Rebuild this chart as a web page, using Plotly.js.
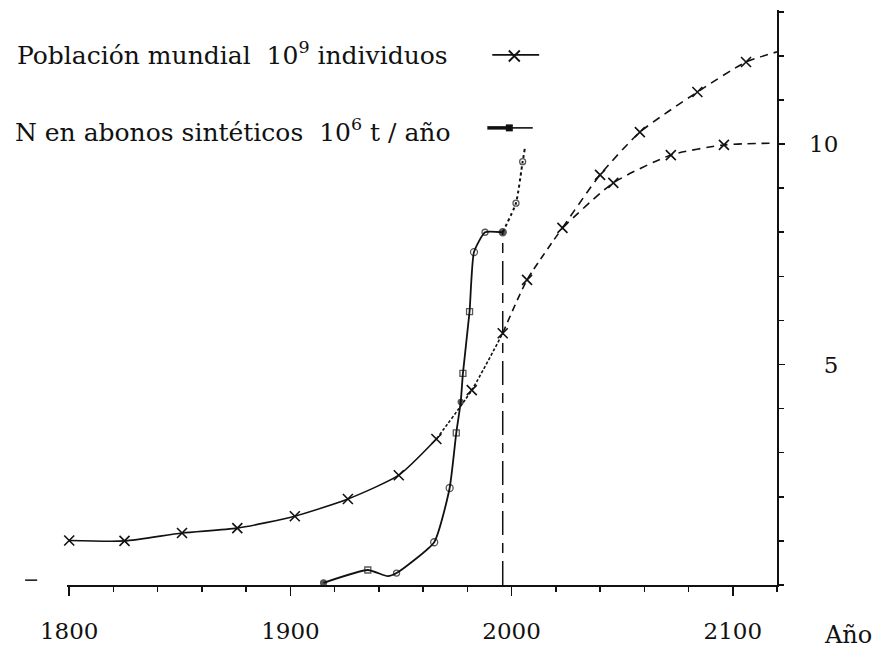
<!DOCTYPE html>
<html><head><meta charset="utf-8">
<script src="https://cdn.plot.ly/plotly-3.0.1.min.js"></script>
<style>html,body{margin:0;padding:0;background:#fff}</style>
</head><body>
<div id="chart" style="width:878px;height:650px"></div>
<script>
// ---- data ----
const popYears  = [1800, 1825, 1851, 1876, 1902, 1926, 1949, 1966, 1982, 1996, 2007, 2023];
const popValues = [1.01, 1.0, 1.18, 1.29, 1.56, 1.95, 2.49, 3.31, 4.42, 5.71, 6.92, 8.1];
const projHighYears  = [2023, 2040, 2058, 2084, 2106, 2120];
const projHighValues = [8.1, 9.3, 10.27, 11.18, 11.86, 12.09];
const projLowYears  = [2023, 2046, 2072, 2096, 2119];
const projLowValues = [8.1, 9.12, 9.75, 9.98, 10.02];
const nYears  = [1915, 1935, 1944, 1948, 1965, 1972, 1975, 1977, 1978, 1981, 1983, 1988, 1996];
const nValues = [0.05, 0.34, 0.2, 0.27, 0.97, 2.2, 3.45, 4.15, 4.8, 6.2, 7.55, 8.0, 8.0];
const nProjYears  = [1996, 2002, 2005, 2006];
const nProjValues = [8.0, 8.66, 9.6, 9.9];
const xTickVals = [1800, 1900, 2000, 2100];
const yTickVals = [5, 10];
const yTickText = ['\u00a0\u00a05', '10'];
const legendPop = 'Población mundial\u00a0\u00a010<sup>9</sup> individuos';
const legendN = 'N en abonos sintéticos\u00a0\u00a010<sup>6</sup> t / año';
const xAxisLabel = 'Año';

// ---- styles ----
const FONT = 'DejaVu Serif';
const INK = '#111';
const nSymbols = ['circle','square-open','circle','circle-open','circle-open','circle-open','square-open','circle','square-open','square-open','circle-open','circle-open','circle'];
const nSizes   = [6, 6, 0, 6, 7, 7, 6, 5, 6, 6, 7, 6, 7];
const nProjSymbols = ['circle','circle-open','circle-open','circle'];
const nProjSizes   = [0, 6, 6, 0];

const solidEnd = popYears.indexOf(1966);
const fineEnd = popYears.indexOf(1996);

function seg(xs, ys, a, b) { return {x: xs.slice(a, b + 1), y: ys.slice(a, b + 1)}; }
const s1 = seg(popYears, popValues, 0, solidEnd);
const s2 = seg(popYears, popValues, solidEnd, fineEnd);
const s3 = seg(popYears, popValues, fineEnd, popYears.length - 1);

const lineBase = {type: 'scatter', mode: 'lines', cliponaxis: false, hoverinfo: 'skip'};
const traces = [
  Object.assign({}, lineBase, {x: s1.x, y: s1.y, line: {color: INK, width: 1.6, shape: 'spline', smoothing: 0.6}}),
  Object.assign({}, lineBase, {x: s2.x, y: s2.y, line: {color: INK, width: 1.6, dash: '3px,2px', shape: 'spline', smoothing: 0.6}}),
  Object.assign({}, lineBase, {x: s3.x, y: s3.y, line: {color: INK, width: 1.6, dash: '7px,5px', shape: 'spline', smoothing: 0.6}}),
  Object.assign({}, lineBase, {x: projHighYears, y: projHighValues, line: {color: INK, width: 1.6, dash: '8px,6px', shape: 'spline', smoothing: 0.6}}),
  Object.assign({}, lineBase, {x: projLowYears, y: projLowValues, line: {color: INK, width: 1.6, dash: '8px,6px', shape: 'spline', smoothing: 0.6}}),
  // population markers
  {type: 'scatter', mode: 'markers', cliponaxis: false, hoverinfo: 'skip',
   x: popYears.concat(projHighYears.slice(1, -1), projLowYears.slice(1, -1)),
   y: popValues.concat(projHighValues.slice(1, -1), projLowValues.slice(1, -1)),
   marker: {symbol: 'x-thin', size: 10, color: INK, line: {color: INK, width: 1.6}}},
  // N fertilizer
  Object.assign({}, lineBase, {mode: 'lines+markers', x: nYears, y: nValues,
   line: {color: INK, width: 1.8, shape: 'spline', smoothing: 0.5},
   marker: {symbol: nSymbols, size: nSizes, color: INK, line: {color: INK, width: 1.3}}}),
  Object.assign({}, lineBase, {mode: 'lines+markers', x: nProjYears, y: nProjValues,
   line: {color: INK, width: 2, dash: 'dot', shape: 'spline', smoothing: 0.5},
   marker: {symbol: nProjSymbols, size: nProjSizes, color: INK, line: {color: INK, width: 1.3}}}),
  // legend samples (overlay axes 0..1)
  Object.assign({}, lineBase, {xaxis: 'x2', yaxis: 'y2', x: [0.599, 0.665], y: [0.922, 0.922], line: {color: INK, width: 1.6}}),
  {type: 'scatter', mode: 'markers', xaxis: 'x2', yaxis: 'y2', cliponaxis: false, hoverinfo: 'skip',
   x: [0.630], y: [0.920], marker: {symbol: 'x-thin', size: 11, color: INK, line: {color: INK, width: 1.8}}},
  Object.assign({}, lineBase, {xaxis: 'x2', yaxis: 'y2', x: [0.592, 0.623], y: [0.795, 0.795], line: {color: INK, width: 3.5}}),
  Object.assign({}, lineBase, {xaxis: 'x2', yaxis: 'y2', x: [0.623, 0.656], y: [0.795, 0.795], line: {color: INK, width: 1.6}}),
  {type: 'scatter', mode: 'markers', xaxis: 'x2', yaxis: 'y2', cliponaxis: false, hoverinfo: 'skip',
   x: [0.623], y: [0.795], marker: {symbol: 'square', size: 7, color: INK}}
];

const tickFont = {family: FONT, size: 23, color: INK};
const lastN = nYears.length - 1;
const layout = {
  width: 878, height: 650,
  margin: {l: 67, r: 101, t: 10, b: 65},
  paper_bgcolor: '#fff', plot_bgcolor: '#fff',
  font: {family: FONT, color: INK},
  showlegend: false,
  xaxis: {
    range: [1799, 2120], showgrid: false, zeroline: false,
    showline: true, linecolor: INK, linewidth: 1.5,
    tickmode: 'array', tickvals: xTickVals,
    ticks: 'outside', ticklen: 9, tickwidth: 1.5, tickcolor: INK,
    minor: {tickmode: 'linear', tick0: 1800, dtick: 20, ticks: 'outside', ticklen: 5, tickwidth: 1.5, tickcolor: INK},
    tickfont: tickFont, ticklabelstandoff: 16
  },
  yaxis: {
    range: [0, 13.04], side: 'right', showgrid: false, zeroline: false,
    showline: true, linecolor: INK, linewidth: 1.5,
    tickmode: 'array', tickvals: yTickVals, ticktext: yTickText,
    ticks: 'outside', ticklen: 6, tickwidth: 1.5, tickcolor: INK,
    minor: {tickmode: 'linear', tick0: 0, dtick: 1, ticks: 'outside', ticklen: 5, tickwidth: 1.5, tickcolor: INK},
    tickfont: tickFont, ticklabelstandoff: 20
  },
  xaxis2: {overlaying: 'x', range: [0, 1], visible: false, fixedrange: true},
  yaxis2: {overlaying: 'y', range: [0, 1], visible: false, fixedrange: true},
  shapes: [
    {type: 'line', xref: 'x', yref: 'y', x0: nYears[lastN], x1: nYears[lastN], y0: 0, y1: nValues[lastN],
     line: {color: INK, width: 1.5, dash: '24px,8px,10px,8px'}},
    {type: 'line', xref: 'paper', yref: 'y', x0: -0.059, x1: -0.042, y0: 0.11, y1: 0.11,
     line: {color: INK, width: 1.5}}
  ],
  annotations: [
    {xref: 'paper', yref: 'paper', x: -0.073, y: 0.925, xanchor: 'left', yanchor: 'middle', showarrow: false,
     text: legendPop, font: {family: FONT, size: 25, color: INK}},
    {xref: 'paper', yref: 'paper', x: -0.076, y: 0.79, xanchor: 'left', yanchor: 'middle', showarrow: false,
     text: legendN, font: {family: FONT, size: 25, color: INK}},
    {xref: 'paper', yref: 'paper', x: 1.1, y: -0.087, xanchor: 'center', yanchor: 'middle', showarrow: false,
     text: xAxisLabel, font: {family: FONT, size: 24, color: INK}}
  ]
};

Plotly.newPlot('chart', traces, layout, {displayModeBar: false, staticPlot: true});
</script>
</body></html>
